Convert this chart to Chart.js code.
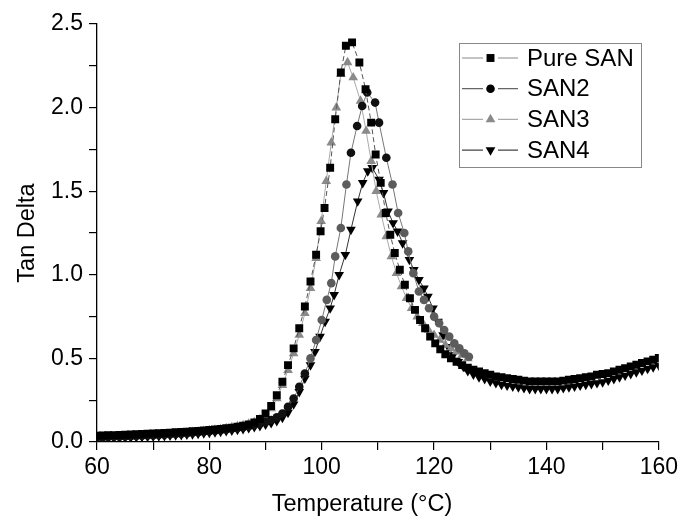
<!DOCTYPE html>
<html>
<head>
<meta charset="utf-8">
<script src="https://cdn.jsdelivr.net/npm/chart.js"></script>
<style>
  html, body { margin: 0; padding: 0; background: #fff; }
  #wrap { width: 682px; height: 520px; }
</style>
</head>
<body>
<div id="wrap"><canvas id="tanDeltaChart" width="682" height="520"></canvas></div>
<script>
// Tan delta vs temperature for the four SAN samples

const pureSanTemp = [60, 61, 62, 63, 64, 65, 66, 67, 68, 69, 70, 71, 72, 73, 74, 75, 76, 77, 78, 79,
  80, 81, 82, 83, 84, 85, 86, 87, 88, 89, 90, 91, 92, 93, 94, 95, 96, 97, 98, 99,
  99.8, 100.5, 101.5, 102.4, 103.4, 104.3, 105.4, 106.7, 107.8, 108.8, 109.6, 110.5, 111.4, 112.2, 113.0,
  113.9, 114.8, 115.7, 116.6, 117.5, 118.4, 119.3, 120.2, 121.1, 122, 123, 124, 125, 126, 127,
  128, 129, 130, 131, 132, 133, 134, 135, 136, 137, 138, 139, 140, 141, 142, 143, 144, 145, 146,
  147, 148, 149, 150, 151, 152, 153, 154, 155, 156, 157, 158, 159, 160];
const pureSanTan = [0.038, 0.039, 0.040, 0.041, 0.042, 0.043, 0.045, 0.046, 0.048, 0.049, 0.051, 0.052, 0.054, 0.056, 0.058, 0.060, 0.062, 0.064, 0.066, 0.069,
  0.072, 0.075, 0.078, 0.082, 0.086, 0.091, 0.097, 0.105, 0.117, 0.138, 0.17, 0.215, 0.28, 0.36, 0.46, 0.56, 0.68, 0.81, 0.96, 1.12,
  1.26, 1.40, 1.64, 1.93, 2.21, 2.37, 2.39, 2.27, 2.11, 1.91, 1.72, 1.55, 1.37, 1.24, 1.13,
  1.03, 0.94, 0.86, 0.79, 0.73, 0.68, 0.63, 0.59, 0.555, 0.525, 0.50, 0.48, 0.46, 0.445, 0.432,
  0.422, 0.412, 0.402, 0.392, 0.387, 0.382, 0.377, 0.372, 0.367, 0.362, 0.362, 0.362, 0.362, 0.362, 0.362, 0.367, 0.372, 0.377, 0.382,
  0.387, 0.392, 0.402, 0.407, 0.412, 0.422, 0.432, 0.442, 0.452, 0.462, 0.472, 0.482, 0.492, 0.502];

const san2Temp = [60, 61, 62, 63, 64, 65, 66, 67, 68, 69, 70, 71, 72, 73, 74, 75, 76, 77, 78, 79,
  80, 81, 82, 83, 84, 85, 86, 87, 88, 89, 90, 91, 92, 93, 94, 95, 96, 97, 98, 99, 100,
  100.9, 101.7, 102.4, 103.4, 104.4, 105.2, 106.3, 107.2, 108.1, 109.5, 110.2, 111.5, 112.6, 113.6,
  114.7, 115.4, 116.3, 117.3, 118.2, 119.1, 120, 120.9, 121.8, 122.7, 123.6, 124.5, 125.4, 126.2];
const san2Tan = [0.028, 0.029, 0.030, 0.031, 0.032, 0.033, 0.034, 0.036, 0.037, 0.039, 0.040, 0.042, 0.044, 0.046, 0.048, 0.050, 0.053, 0.055, 0.058, 0.061,
  0.064, 0.067, 0.071, 0.075, 0.079, 0.084, 0.089, 0.095, 0.102, 0.110, 0.120, 0.132, 0.148, 0.17, 0.21, 0.26, 0.33, 0.41, 0.50, 0.61, 0.73,
  0.85, 0.95, 1.11, 1.28, 1.54, 1.73, 1.89, 2.01, 2.09, 2.03, 1.91, 1.70, 1.54, 1.37,
  1.25, 1.14, 1.01, 0.90, 0.85, 0.80, 0.75, 0.71, 0.67, 0.63, 0.59, 0.56, 0.53, 0.51];

const san3Temp = [60, 61, 62, 63, 64, 65, 66, 67, 68, 69, 70, 71, 72, 73, 74, 75, 76, 77, 78, 79,
  80, 81, 82, 83, 84, 85, 86, 87, 88, 89, 90, 91, 92, 93, 94, 95, 96, 97, 98, 99,
  99.9, 100.8, 101.7, 102.6, 103.4, 104.6, 105.6, 106.9, 107.9, 108.8, 109.7, 110.6, 111.5, 112.4,
  113.3, 114.2, 115.1, 116, 117, 118, 119, 120, 121, 122, 123, 124, 125, 126];
const san3Tan = [0.030, 0.031, 0.032, 0.033, 0.034, 0.035, 0.036, 0.038, 0.039, 0.041, 0.043, 0.045, 0.047, 0.049, 0.051, 0.053, 0.056, 0.059, 0.062, 0.065,
  0.069, 0.073, 0.077, 0.082, 0.087, 0.093, 0.100, 0.108, 0.118, 0.135, 0.16, 0.20, 0.26, 0.34, 0.43, 0.53, 0.64, 0.77, 0.92, 1.10,
  1.32, 1.56, 1.79, 2.00, 2.20, 2.27, 2.18, 2.04, 1.86, 1.68, 1.50, 1.36, 1.23, 1.11,
  1.01, 0.93, 0.86, 0.80, 0.75, 0.71, 0.67, 0.64, 0.61, 0.58, 0.56, 0.54, 0.52, 0.50];

const san4Temp = [60, 61, 62, 63, 64, 65, 66, 67, 68, 69, 70, 71, 72, 73, 74, 75, 76, 77, 78, 79,
  80, 81, 82, 83, 84, 85, 86, 87, 88, 89, 90, 91, 92, 93, 94, 95, 96, 97, 98,
  98.8, 99.7, 100.6, 101.5, 102.2, 103.1, 104.2, 105.2, 106.4, 107.3, 108.2, 109.0, 110.2, 111.0, 111.8,
  112.7, 113.5, 114.4, 115.6, 116.4, 117.3, 118.2, 118.9, 119.8, 120.7, 121.6, 122.5, 123.4, 124.3, 125.2,
  126, 127, 128, 129, 130, 131, 132, 133, 134, 135, 136, 137, 138, 139, 140, 141, 142, 143, 144, 145,
  146, 147, 148, 149, 150, 151, 152, 153, 154, 155, 156, 157, 158, 159, 160];
const san4Tan = [0.022, 0.023, 0.024, 0.025, 0.026, 0.027, 0.028, 0.029, 0.031, 0.032, 0.034, 0.035, 0.037, 0.039, 0.041, 0.043, 0.045, 0.047, 0.050, 0.053,
  0.056, 0.059, 0.062, 0.066, 0.070, 0.074, 0.079, 0.084, 0.090, 0.097, 0.105, 0.114, 0.126, 0.146, 0.176, 0.226, 0.30, 0.38, 0.46,
  0.54, 0.63, 0.72, 0.80, 0.88, 1.00, 1.12, 1.27, 1.44, 1.55, 1.62, 1.64, 1.57, 1.49, 1.38,
  1.31, 1.26, 1.19, 1.09, 1.03, 0.97, 0.92, 0.87, 0.80, 0.72, 0.64, 0.57, 0.52, 0.48, 0.45,
  0.425, 0.405, 0.388, 0.378, 0.363, 0.353, 0.343, 0.338, 0.333, 0.328, 0.323, 0.318, 0.318, 0.318, 0.318, 0.318, 0.318, 0.323, 0.328, 0.333,
  0.338, 0.343, 0.348, 0.353, 0.358, 0.368, 0.378, 0.388, 0.398, 0.408, 0.418, 0.428, 0.438, 0.448, 0.458];

const seriesNames = ["Pure SAN", "SAN2", "SAN3", "SAN4"];
const xTitle = "Temperature (°C)";
const yTitle = "Tan Delta";

const toPoints = (xs, ys) => xs.map((x, i) => ({ x, y: ys[i] }));

const FONT = "'Liberation Sans', Arial, sans-serif";
Chart.defaults.font.family = FONT;
Chart.defaults.color = "#000";

// SAN2 circles look black near the peak and grey on the flanks
const san2Fill = (ctx) => {
  const v = ctx.raw ? ctx.raw.y : 0;
  return v > 0.45 && v < 1.6 ? "#5c5c5c" : "#111";
};

const datasets = [
  {
    label: seriesNames[0],
    data: toPoints(pureSanTemp, pureSanTan),
    borderColor: "#555",
    borderWidth: 1,
    borderDash: [5, 3],
    pointStyle: "rect",
    pointRadius: 5.6,
    pointBackgroundColor: "#000",
    pointBorderWidth: 0,
    legendLine: "#888",
    legendFill: "#000",
  },
  {
    label: seriesNames[1],
    data: toPoints(san2Temp, san2Tan),
    borderColor: "#777",
    borderWidth: 1,
    pointStyle: "circle",
    pointRadius: 4.3,
    pointBackgroundColor: san2Fill,
    pointBorderWidth: 0,
    legendLine: "#666",
    legendFill: "#000",
  },
  {
    label: seriesNames[2],
    data: toPoints(san3Temp, san3Tan),
    borderColor: "#aaa",
    borderWidth: 1,
    pointStyle: "triangle",
    pointRadius: 5.6,
    pointBackgroundColor: "#8a8a8a",
    pointBorderWidth: 0,
    legendLine: "#aaa",
    legendFill: "#8a8a8a",
  },
  {
    label: seriesNames[3],
    data: toPoints(san4Temp, san4Tan),
    borderColor: "#333",
    borderWidth: 1,
    pointStyle: "triangle",
    pointRotation: 180,
    pointRadius: 5.6,
    pointBackgroundColor: "#000",
    pointBorderWidth: 0,
    legendLine: "#444",
    legendFill: "#000",
  },
];

// legend inside the plot (top right) with line-marker-line samples,
// plus the x title, which sits a little left of the axis centre
const boxLegend = {
  id: "boxLegend",
  afterDatasetsDraw(chart) {
    const ctx = chart.ctx;
    const left = 459.5, top = 43.5, w = 182, h = 124;
    ctx.save();
    ctx.fillStyle = "#fff";
    ctx.fillRect(left, top, w, h);
    ctx.strokeStyle = "#888";
    ctx.lineWidth = 1;
    ctx.strokeRect(left, top, w, h);
    chart.data.datasets.forEach((ds, i) => {
      const y = 58 + i * 30.7;
      ctx.strokeStyle = ds.legendLine;
      ctx.lineWidth = 1.2;
      ctx.setLineDash([]);
      ctx.beginPath();
      ctx.moveTo(462, y);
      ctx.lineTo(483, y);
      ctx.moveTo(498, y);
      ctx.lineTo(518, y);
      ctx.stroke();
      ctx.fillStyle = ds.legendFill;
      Chart.helpers.drawPoint(ctx, {
        pointStyle: ds.pointStyle,
        rotation: ds.pointRotation || 0,
        radius: ds.pointRadius,
        borderWidth: 0,
      }, 490.5, y);
      ctx.fillStyle = "#000";
      ctx.font = "24px " + FONT;
      ctx.textAlign = "left";
      ctx.textBaseline = "middle";
      ctx.fillText(ds.label, 527, y + 1);
    });
    ctx.font = "23.5px " + FONT;
    ctx.textAlign = "center";
    ctx.textBaseline = "middle";
    ctx.fillText(xTitle, 362, 505);
    ctx.restore();
  },
};

new Chart(document.getElementById("tanDeltaChart").getContext("2d"), {
  type: "line",
  data: { datasets },
  options: {
    responsive: false,
    animation: false,
    events: [],
    layout: { padding: { top: 24, right: 21, left: 0, bottom: 0 } },
    elements: { line: { tension: 0 } },
    plugins: {
      legend: { display: false },
      tooltip: { enabled: false },
    },
    scales: {
      x: {
        type: "linear",
        min: 60,
        max: 160,
        afterFit: (s) => { s.height = 78; },
        ticks: {
          stepSize: 10,
          autoSkip: false,
          maxRotation: 0,
          padding: 4,
          font: { size: 23 },
          callback: (v) => (v % 20 === 0 ? String(v) : ""),
        },
        grid: { drawOnChartArea: false, tickLength: 8, color: "#000", lineWidth: 1.2 },
        border: { color: "#000", width: 1.3 },
      },
      y: {
        min: 0,
        max: 2.5,
        afterFit: (s) => { s.width = 97; },
        ticks: {
          stepSize: 0.25,
          autoSkip: false,
          padding: 6,
          font: { size: 23 },
          callback: (v) => (Math.round(v * 100) % 50 === 0 ? v.toFixed(1) : ""),
        },
        grid: { drawOnChartArea: false, tickLength: 8, color: "#000", lineWidth: 1.2 },
        border: { color: "#000", width: 1.3 },
        title: {
          display: true,
          text: yTitle,
          font: { size: 23.5 },
          padding: { top: 13, bottom: 0 },
        },
      },
    },
  },
  plugins: [boxLegend],
});
</script>
</body>
</html>
